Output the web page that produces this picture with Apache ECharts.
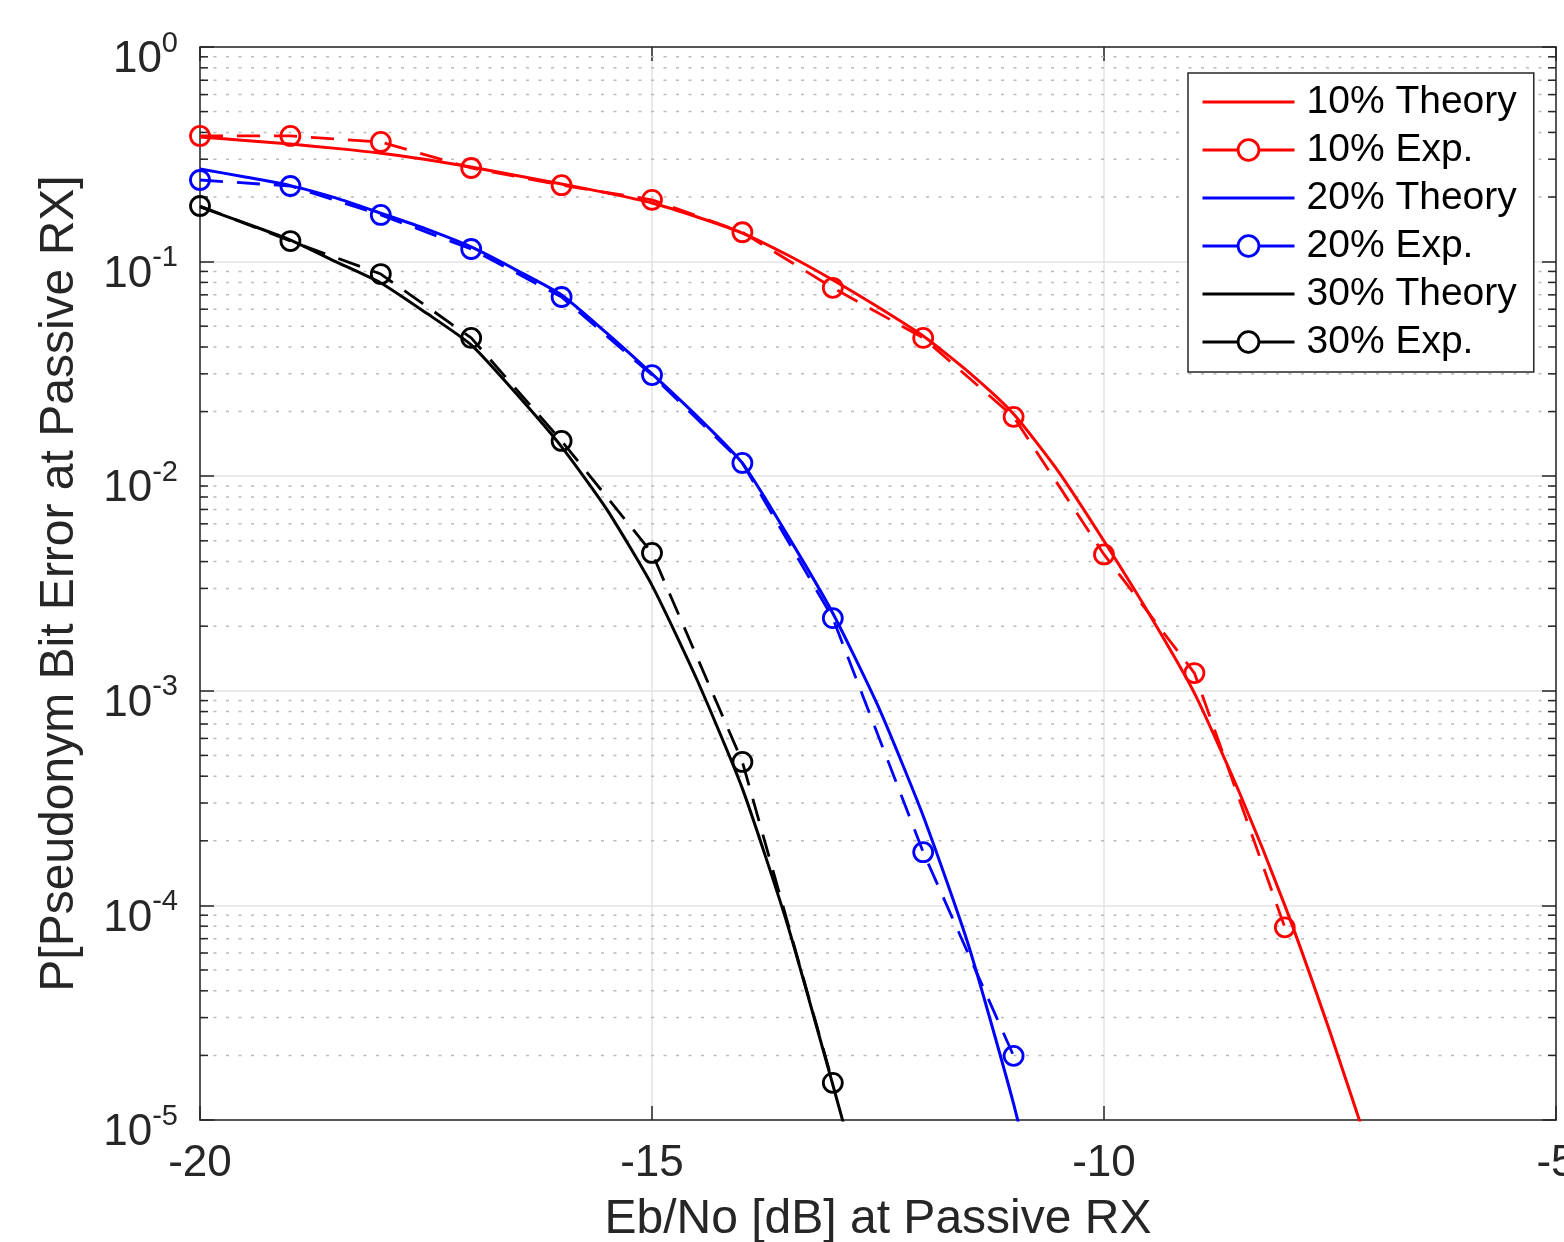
<!DOCTYPE html>
<html>
<head>
<meta charset="utf-8">
<script src="https://cdn.jsdelivr.net/npm/echarts@6/dist/echarts.min.js"></script>
<style>
html,body{margin:0;padding:0;background:#fff;}
#chart{width:1564px;height:1242px;}
</style>
</head>
<body>
<div id="chart"></div>
<script>
// ---------------- data ----------------
const X_TICKS = [-20, -15, -10, -5];
const Y_DECADES = [1e-5, 1e-4, 1e-3, 1e-2, 1e-1, 1];
const Y_MINOR_MULTS = [2, 3, 4, 5, 6, 7, 8, 9];

const SERIES_NAMES = ['10% Theory', '10% Exp.', '20% Theory', '20% Exp.', '30% Theory', '30% Exp.'];

// Experimental points (1 dB steps)
const exp10X = [-20, -19, -18, -17, -16, -15, -14, -13, -12, -11, -10, -9, -8];
const exp10Y = [0.385, 0.385, 0.361, 0.273, 0.227, 0.194, 0.137, 0.0755, 0.0441, 0.0189, 0.00432, 0.00121, 7.9e-5];

const exp20X = [-20, -19, -18, -17, -16, -15, -14, -13, -12, -11];
const exp20Y = [0.240, 0.225, 0.165, 0.1145, 0.0684, 0.0296, 0.01153, 0.00218, 1.77e-4, 1.99e-5];

const exp30X = [-20, -19, -18, -17, -16, -15, -14, -13];
const exp30Y = [0.1816, 0.1247, 0.0875, 0.0441, 0.0146, 0.00439, 4.66e-4, 1.49e-5];

// Theory curves (read at 0.5 dB steps)
const th10X = [-20, -19.5, -19, -18.5, -18, -17.5, -17, -16.5, -16, -15.5, -15, -14.5, -14, -13.5, -13, -12.5, -12, -11.5, -11, -10.5, -10, -9.5, -9, -8.5, -8, -7.5, -7];
const th10Y = [0.381, 0.367, 0.353, 0.337, 0.32, 0.299, 0.276, 0.252, 0.23, 0.209, 0.1875, 0.1614, 0.1359, 0.1073, 0.0821, 0.0614, 0.045, 0.0306, 0.0195, 0.01046, 0.00499, 0.00228, 9.76e-4, 3.34e-4, 1.0e-4, 2.57e-5, 5.97e-6];

const th20X = [-20, -19.5, -19, -18.5, -18, -17.5, -17, -16.5, -16, -15.5, -15, -14.5, -14, -13.5, -13, -12.5, -12, -11.5, -11, -10.5];
const th20Y = [0.27, 0.248, 0.226, 0.198, 0.168, 0.142, 0.117, 0.0913, 0.0699, 0.0464, 0.030, 0.019, 0.0115, 0.0053, 0.0023, 8.5e-4, 2.61e-4, 6.54e-5, 1.19e-5, 1.72e-6];

const th30X = [-20, -19.5, -19, -18.5, -18, -17.5, -17, -16.5, -16, -15.5, -15, -14.5, -14, -13.5, -13, -12.5];
const th30Y = [0.18, 0.151, 0.126, 0.1, 0.0795, 0.0577, 0.0409, 0.0242, 0.0137, 0.0070, 0.0031, 0.00112, 3.5e-4, 8.1e-5, 1.46e-5, 2.5e-6];

// ---------------- chart ----------------
const FONT = '"Liberation Sans", Arial, Helvetica, sans-serif';
const AX = '#262626';
const X_MIN = X_TICKS[0], X_MAX = X_TICKS[X_TICKS.length - 1];
const Y_MIN = Y_DECADES[0], Y_MAX = Y_DECADES[Y_DECADES.length - 1];
const COLORS = ['#ff0000', '#ff0000', '#0000ff', '#0000ff', '#000000', '#000000'];

const minorTicks = [];
for (let i = 0; i < Y_DECADES.length - 1; i++) {
  for (const m of Y_MINOR_MULTS) minorTicks.push([X_MIN, Y_DECADES[i] * m]);
}

function zip(xs, ys) { return xs.map((x, i) => [x, ys[i]]); }

function theory(name, color, xs, ys) {
  return {
    name, type: 'line', data: zip(xs, ys),
    symbol: 'none', showSymbol: false, smooth: 0.2,
    lineStyle: { color, width: 3 },
    itemStyle: { color },
    z: 3
  };
}
function experiment(name, color, xs, ys) {
  return {
    name, type: 'line', data: zip(xs, ys),
    symbol: 'circle', symbolSize: 19, showSymbol: true,
    lineStyle: { color, width: 2.8, type: [23, 14] },
    itemStyle: { color: 'rgba(255,255,255,0)', borderColor: color, borderWidth: 2.8 },
    z: 4
  };
}

const legendData = SERIES_NAMES.map((n, i) => (i % 2 === 0)
  ? { name: n, lineStyle: { width: 3 }, itemStyle: { color: 'rgba(0,0,0,0)', borderWidth: 0 } }
  : { name: n, lineStyle: { type: 'solid', width: 2.8 }, itemStyle: { color: '#fff', borderColor: COLORS[i], borderWidth: 2.8 } });

const chart = echarts.init(document.getElementById('chart'), null, { renderer: 'canvas' });

chart.setOption({
  animation: false,
  backgroundColor: '#fff',
  grid: { left: 200, right: 8, top: 47, bottom: 122, containLabel: false, outerBoundsMode: 'none' },
  legend: {
    data: legendData,
    orient: 'vertical',
    left: 1188, top: 73,
    padding: [9, 17, 10, 13],
    itemGap: 8,
    itemWidth: 92, itemHeight: 26,
    backgroundColor: '#fff',
    borderColor: AX, borderWidth: 1.5,
    textStyle: { fontFamily: FONT, fontSize: 39, color: '#000', lineHeight: 40, padding: [0, 0, 0, 7] },
    z: 10
  },
  xAxis: [{
    type: 'value', min: X_MIN, max: X_MAX, interval: 5,
    name: 'Eb/No [dB] at Passive RX', nameLocation: 'middle', nameGap: 76,
    nameTextStyle: { fontFamily: FONT, fontSize: 48, color: AX },
    axisLine: { show: true, onZero: false, lineStyle: { color: AX, width: 1.5 } },
    axisTick: { show: true, inside: true, length: 14, lineStyle: { color: AX, width: 1.5 } },
    axisLabel: { fontFamily: FONT, fontSize: 44, color: AX, margin: 22 },
    splitLine: { show: true, lineStyle: { color: '#e3e3e3', width: 1.5 } }
  }, {
    type: 'value', min: X_MIN, max: X_MAX, interval: 5, position: 'top',
    axisLine: { show: true, onZero: false, lineStyle: { color: AX, width: 1.5 } },
    axisTick: { show: true, inside: true, length: 14, lineStyle: { color: AX, width: 1.5 } },
    axisLabel: { show: false }, splitLine: { show: false }
  }],
  yAxis: [{
    type: 'log', logBase: 10, min: Y_MIN, max: Y_MAX, interval: 1,
    name: 'P[Pseudonym Bit Error at Passive RX]', nameLocation: 'middle', nameGap: 116,
    nameTextStyle: { fontFamily: FONT, fontSize: 48, color: AX },
    axisLine: { show: true, onZero: false, lineStyle: { color: AX, width: 1.5 } },
    axisTick: { show: true, inside: true, length: 14, lineStyle: { color: AX, width: 1.5 } },
    axisLabel: {
      margin: 22, padding: [26, 0, 0, 0],
      formatter: function (v) {
        const e = Math.round(Math.log10(v));
        return '{b|10}{s|' + e + '}';
      },
      rich: {
        b: { fontFamily: FONT, fontSize: 44, color: AX, verticalAlign: 'bottom', lineHeight: 44 },
        s: { fontFamily: FONT, fontSize: 29, color: AX, verticalAlign: 'bottom', lineHeight: 29, padding: [0, 0, 24, 0] }
      }
    },
    splitLine: { show: true, lineStyle: { color: '#e3e3e3', width: 1.5 } }
  }, {
    type: 'log', logBase: 10, min: Y_MIN, max: Y_MAX, interval: 1, position: 'right',
    axisLine: { show: true, onZero: false, lineStyle: { color: AX, width: 1.5 } },
    axisTick: { show: true, inside: true, length: 14, lineStyle: { color: AX, width: 1.5 } },
    axisLabel: { show: false }, splitLine: { show: false }
  }],
  series: [
    {
      name: 'minorGrid', type: 'custom', xAxisIndex: 0, yAxisIndex: 0,
      data: minorTicks, encode: { x: 0, y: 1 }, silent: true, z: 1,
      renderItem: function (params, api) {
        const v = api.value(1);
        const a = api.coord([X_MIN, v]);
        const b = api.coord([X_MAX, v]);
        return {
          type: 'group', children: [
            { type: 'line', shape: { x1: a[0] + 1, y1: a[1], x2: b[0] - 1, y2: b[1] },
              style: { stroke: '#b9b9b9', lineWidth: 1.5, lineDash: [3, 9.5] } },
            { type: 'line', shape: { x1: a[0], y1: a[1], x2: a[0] + 8, y2: a[1] },
              style: { stroke: AX, lineWidth: 1.5 } },
            { type: 'line', shape: { x1: b[0] - 8, y1: b[1], x2: b[0], y2: b[1] },
              style: { stroke: AX, lineWidth: 1.5 } }
          ]
        };
      }
    },
    theory(SERIES_NAMES[0], COLORS[0], th10X, th10Y),
    experiment(SERIES_NAMES[1], COLORS[1], exp10X, exp10Y),
    theory(SERIES_NAMES[2], COLORS[2], th20X, th20Y),
    experiment(SERIES_NAMES[3], COLORS[3], exp20X, exp20Y),
    theory(SERIES_NAMES[4], COLORS[4], th30X, th30Y),
    experiment(SERIES_NAMES[5], COLORS[5], exp30X, exp30Y)
  ]
});
</script>
</body>
</html>
